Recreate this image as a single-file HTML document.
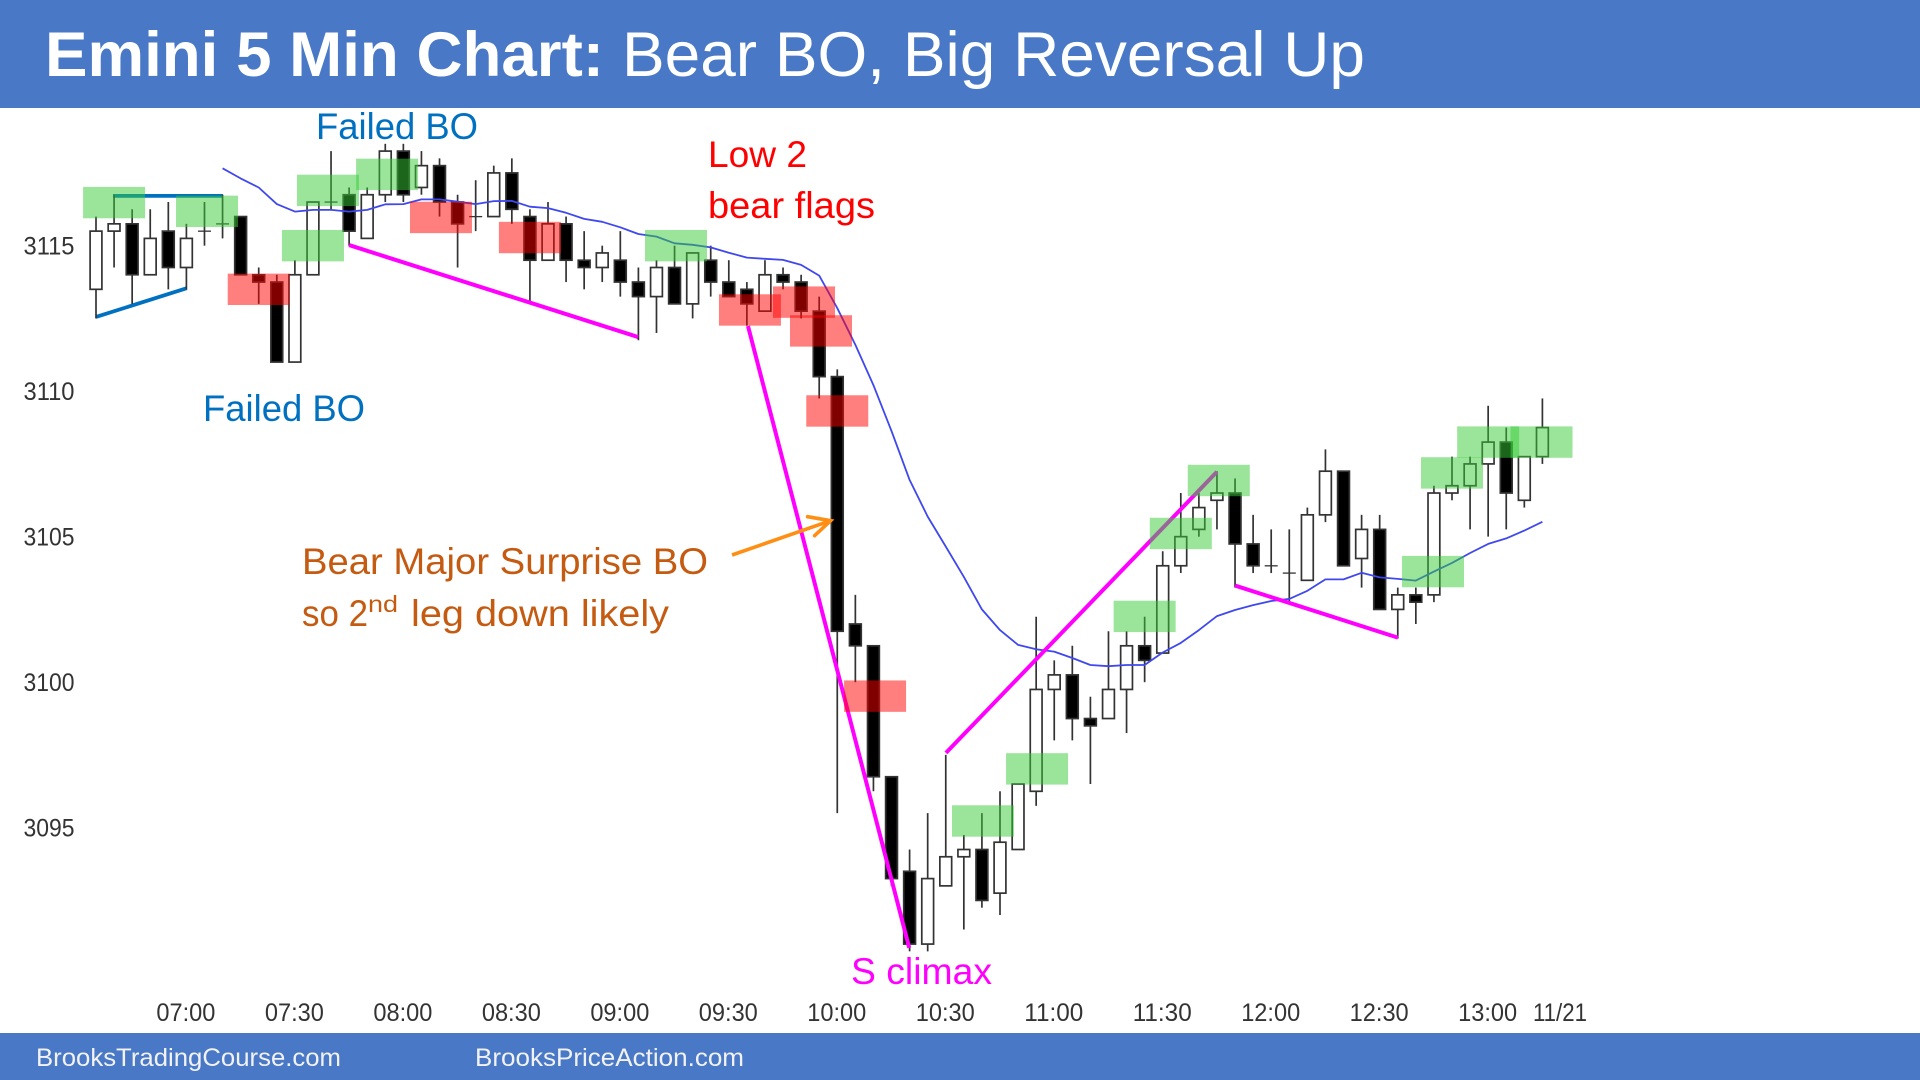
<!DOCTYPE html>
<html lang="en">
<head>
<meta charset="utf-8">
<title>Emini 5 Min Chart</title>
<style>
html,body{margin:0;padding:0;background:#fff;width:1920px;height:1080px;overflow:hidden}
svg{display:block;font-family:"Liberation Sans",Arial,sans-serif}
</style>
</head>
<body>
<svg id="chart" xmlns="http://www.w3.org/2000/svg" width="1920" height="1080" viewBox="0 0 1920 1080">
  <rect x="0" y="0" width="1920" height="1080" fill="#ffffff"/>
  <rect x="0" y="0" width="1920" height="108" fill="#4878c6"/>
  <text x="45" y="76" font-size="63" font-weight="700" fill="#ffffff" textLength="559" lengthAdjust="spacingAndGlyphs">Emini 5 Min Chart:</text>
  <text x="622" y="76" font-size="63" fill="#ffffff" textLength="743" lengthAdjust="spacingAndGlyphs">Bear BO, Big Reversal Up</text>
  <rect x="0" y="1033" width="1920" height="47" fill="#4878c6"/>
  <text x="36" y="1066" font-size="25" fill="#f2f2f2" textLength="305" lengthAdjust="spacingAndGlyphs">BrooksTradingCourse.com</text>
  <text x="475" y="1066" font-size="25" fill="#f2f2f2" textLength="269" lengthAdjust="spacingAndGlyphs">BrooksPriceAction.com</text>
  <g id="axis-layer"></g>
  <g id="line-under-layer"></g>
  <g id="candle-layer"></g>
  <g id="ema-layer"></g>
  <g id="line-over-layer"></g>
  <g id="box-layer"></g>
  <g id="arrow-layer"></g>
  <text x="316" y="139" font-size="37" fill="#0070c0" textLength="162" lengthAdjust="spacingAndGlyphs">Failed BO</text>
  <text x="203" y="421" font-size="37" fill="#0070c0" textLength="162" lengthAdjust="spacingAndGlyphs">Failed BO</text>
  <text x="708" y="167" font-size="37" fill="#ff0000" textLength="99" lengthAdjust="spacingAndGlyphs">Low 2</text>
  <text x="708" y="218" font-size="37" fill="#ff0000" textLength="167" lengthAdjust="spacingAndGlyphs">bear flags</text>
  <text x="302" y="574" font-size="37" fill="#c55a11" textLength="406" lengthAdjust="spacingAndGlyphs">Bear Major Surprise BO</text>
  <text y="626" font-size="37" fill="#c55a11"><tspan x="302" textLength="66" lengthAdjust="spacingAndGlyphs">so 2</tspan><tspan x="368" y="612" font-size="23" textLength="30" lengthAdjust="spacingAndGlyphs">nd</tspan><tspan x="411" y="626" textLength="258" lengthAdjust="spacingAndGlyphs">leg down likely</tspan></text>
  <text x="851" y="984" font-size="37" fill="#ff00ff" textLength="141" lengthAdjust="spacingAndGlyphs">S climax</text>
</svg>
<script>
// ---- chart data (prices; bar 0 = 06:35, one bar per 5 minutes) ----
var opens = [3113.5,3115.5,3115.75,3114,3115.5,3114.25,3115.5,3115.75,3116,3114,3113.75,3111,3114,3116.5,3116.75,3115.25,3116.75,3118.25,3117,3117.75,3116.5,3116,3116,3117.5,3116,3114.5,3115.75,3114.5,3114.25,3114.5,3113.75,3113.25,3114.25,3113,3114.5,3113.75,3113.5,3112.75,3114,3113.75,3112.75,3110.5,3102,3101.25,3096.75,3093.5,3091,3093,3094,3094.25,3092.75,3094.25,3096.25,3099.75,3100.25,3098.75,3098.75,3099.75,3101.25,3101,3104,3105.25,3106.25,3106.5,3104.75,3104,3103.75,3103.5,3105.75,3107.25,3104.25,3105.25,3102.5,3103,3103,3106.5,3106.75,3107.5,3108.25,3106.25,3107.75];
var highs = [3116,3116.75,3116.25,3116.25,3116.5,3115.75,3116.5,3116.75,3116,3114.25,3114,3114.5,3116.5,3118.25,3117,3117,3118.5,3118.5,3118.25,3118,3116.75,3117.25,3117.75,3118,3116.25,3116.5,3116,3115.5,3115,3115.5,3114.25,3114.5,3115,3114.75,3115,3114.5,3113.75,3114.5,3114.25,3114,3113.25,3110.75,3103,3101.25,3096.75,3094.25,3095.5,3097.5,3094.75,3095.5,3096.25,3096.5,3102.25,3100.75,3101.25,3099.5,3101.75,3101.75,3102.25,3104.5,3106.5,3106.5,3107.25,3107,3105.75,3105.25,3105.25,3106,3108,3107.25,3105.75,3105.75,3103.25,3103.25,3106.75,3107.75,3107.75,3109.5,3108.75,3107.75,3109.75];
var lows = [3112.5,3114.25,3113,3114,3113.5,3113.5,3115,3115.25,3114,3113,3111,3111,3114,3116.25,3115,3115.25,3116.5,3116.5,3116.75,3116,3114.25,3115.5,3116,3115.75,3113,3114.5,3113.75,3113.5,3113.75,3113.25,3111.75,3112,3113,3112.5,3113.25,3113.25,3112.25,3112.75,3113.5,3112.5,3109.75,3095.5,3100,3096.25,3093,3090.75,3090.75,3093,3091.5,3092.25,3092,3094.25,3095.75,3098,3098,3096.5,3098.75,3098.25,3100,3101,3103.75,3105,3105.25,3103.25,3103.75,3103.75,3102.75,3103.5,3105.5,3104,3103.25,3102.5,3101.5,3102,3102.75,3106.25,3105.25,3105,3105.25,3106,3107.5];
var closes = [3115.5,3115.75,3114,3115.25,3114.25,3115.25,3115.5,3115.75,3114,3113.75,3111,3114,3116.5,3116.5,3115.5,3116.75,3118.25,3116.75,3117.75,3116.5,3115.75,3116,3117.5,3116.25,3114.5,3115.75,3114.5,3114.25,3114.75,3113.75,3113.25,3114.25,3113,3114.75,3113.75,3113.25,3113,3114,3113.75,3112.75,3110.5,3101.75,3101.25,3096.75,3093.25,3091,3093.25,3094,3094.25,3092.5,3094.5,3096.5,3099.75,3100.25,3098.75,3098.5,3099.75,3101.25,3100.75,3104,3105,3106,3106.5,3104.75,3104,3104,3103.75,3105.75,3107.25,3104,3105.25,3102.5,3103,3102.75,3106.5,3106.75,3107.5,3108.25,3106.5,3107.75,3108.75];
var emaStartBar = 7;
var emaValues = [3117.66,3117.31,3117,3116.43,3116.17,3116.23,3116.23,3116.17,3116.23,3116.42,3116.43,3116.59,3116.59,3116.51,3116.43,3116.53,3116.54,3116.34,3116.29,3116.13,3115.92,3115.82,3115.63,3115.4,3115.31,3115.08,3115.03,3114.94,3114.76,3114.59,3114.55,3114.51,3114.34,3113.97,3112.85,3111.59,3110.21,3108.63,3106.95,3105.69,3104.66,3103.62,3102.5,3101.79,3101.28,3101.13,3101.05,3100.83,3100.59,3100.55,3100.59,3100.59,3101.02,3101.35,3101.79,3102.27,3102.48,3102.65,3102.79,3102.86,3103.14,3103.53,3103.53,3103.76,3103.6,3103.55,3103.49,3103.8,3104.1,3104.44,3104.75,3104.94,3105.21,3105.51];
var priceTicks = [3115,3110,3105,3100,3095];
var timeLabels = ["07:00","07:30","08:00","08:30","09:00","09:30","10:00","10:30","11:00","11:30","12:00","12:30","13:00"];
var dateLabel = "11/21";
var dateBar = 81;
var greenBoxBars = [1,6.14,12,12.83,16.1,32.08,49.06,52.05,58,60,62.1,73.95,75,77,79.95];
var greenBoxPrices = [3116.48,3116.18,3115,3116.9,3117.45,3115,3095.23,3097.02,3102.26,3105.11,3106.93,3103.8,3107.19,3108.25,3108.25];
var redBoxBars = [9,19.08,24,36.17,39.16,40.1,41,43.09];
var redBoxPrices = [3113.5,3115.97,3115.28,3112.79,3113.06,3112.07,3109.32,3099.52];
var magentaFromBars = [14,36.06,47.01,63];
var magentaFromPrices = [3115.02,3112.24,3097.57,3103.32];
var magentaToBars = [29.98,44.98,62,72.01];
var magentaToPrices = [3111.86,3090.87,3107.23,3101.53];
var blueFromBars = [0,0.94];
var blueFromPrices = [3112.55,3116.71];
var blueToBars = [5.02,7.02];
var blueToPrices = [3113.54,3116.71];
var arrowBars = [35.18,40.63];
var arrowPrices = [3104.37,3105.55];

// ---- axis functions ----
function xScale(bar){ return 96 + 18.08 * bar; }
function yScale(price){ return 245.67 + (3115 - price) * 29.1; }
function barOfTime(label){
  var parts = label.split(":");
  return (Number(parts[0]) * 60 + Number(parts[1]) - 395) / 5;
}
var NS = "http://www.w3.org/2000/svg";
function mk(tag, parent, attrs){
  var el = document.createElementNS(NS, tag);
  for (var k in attrs){ el.setAttribute(k, attrs[k]); }
  parent.appendChild(el);
  return el;
}
var axisLayer = document.getElementById("axis-layer");
var candleLayer = document.getElementById("candle-layer");
var emaLayer = document.getElementById("ema-layer");
var underLayer = document.getElementById("line-under-layer");
var overLayer = document.getElementById("line-over-layer");
var boxLayer = document.getElementById("box-layer");
var arrowLayer = document.getElementById("arrow-layer");

// ---- axes ----
priceTicks.forEach(function(p){
  var t = mk("text", axisLayer, {x:23.5, y:yScale(p)+8.6, "font-size":25, fill:"#333333", textLength:51, lengthAdjust:"spacingAndGlyphs"});
  
  
  t.textContent = String(p);
});
timeLabels.forEach(function(label){
  var t = mk("text", axisLayer, {x:xScale(barOfTime(label))-30, y:1021, "font-size":25, fill:"#333333", textLength:59, lengthAdjust:"spacingAndGlyphs"});
  
  
  t.textContent = label;
});
var dateText = mk("text", axisLayer, {x:xScale(dateBar)-27.5, y:1021, "font-size":25, fill:"#333333", textLength:54, lengthAdjust:"spacingAndGlyphs"});


dateText.textContent = dateLabel;

// ---- blue trend lines (under candles) ----
blueFromBars.forEach(function(b, i){
  var l = mk("line", underLayer, {x1:xScale(b), y1:yScale(blueFromPrices[i]), x2:xScale(blueToBars[i]), y2:yScale(blueToPrices[i]), stroke:"#0070c0", "stroke-width":3.8});
  
  
});

// ---- candlesticks ----
opens.forEach(function(o, i){
  var c = closes[i], hi = highs[i], lo = lows[i];
  var x = xScale(i);
  var g = mk("g", candleLayer, {});
  
  
  var wick = mk("line", g, {x1:x, y1:yScale(hi), x2:x, y2:yScale(lo), stroke:"#333333", "stroke-width":1.7});
  
  
  var top = yScale(Math.max(o, c)), bottom = yScale(Math.min(o, c));
  var bear = c < o;
  var body = mk("rect", g, {x:x-5.9, y:top, width:11.8, height:Math.max(bottom-top, 0.2), fill:bear ? "#000000" : "#ffffff", stroke:"#333333", "stroke-width":1.7});
  
  
  if (o === c) {
    body.setAttribute('fill', '#333333');
    body.setAttribute('height', '0.1');
    body.setAttribute('stroke-width', '1.2');
  }
});

// ---- moving average ----
var emaPoints = emaValues.map(function(v, i){
  return xScale(emaStartBar + i).toFixed(1) + "," + yScale(v).toFixed(1);
}).join(" ");
var ema = mk("polyline", emaLayer, {points:emaPoints, fill:"none", stroke:"#3f48ee", "stroke-width":1.8, "stroke-linejoin":"round"});



// ---- magenta trend lines ----
magentaFromBars.forEach(function(b, i){
  var l = mk("line", overLayer, {x1:xScale(b), y1:yScale(magentaFromPrices[i]), x2:xScale(magentaToBars[i]), y2:yScale(magentaToPrices[i]), stroke:"#ff00ff", "stroke-width":4});
  
  
});

// ---- signal boxes ----
greenBoxBars.forEach(function(b, i){
  var r = mk("rect", boxLayer, {x:xScale(b)-31, y:yScale(greenBoxPrices[i])-15.7, width:62, height:31.4, fill:"rgba(54,204,54,0.5)"});
  
  
});
redBoxBars.forEach(function(b, i){
  var r = mk("rect", boxLayer, {x:xScale(b)-31, y:yScale(redBoxPrices[i])-15.7, width:62, height:31.4, fill:"rgba(255,0,0,0.5)"});
  
  
});

// ---- orange arrow ----
var tipX = xScale(arrowBars[1]), tipY = yScale(arrowPrices[1]);
var shaft = mk("line", arrowLayer, {x1:xScale(arrowBars[0]), y1:yScale(arrowPrices[0]), x2:tipX, y2:tipY, stroke:"#ff8f14", "stroke-width":3.6});


var head = mk("polyline", arrowLayer, {points:(tipX-23)+","+(tipY-4)+" "+tipX+","+tipY+" "+(tipX-16)+","+(tipY+15), fill:"none", stroke:"#ff8f14", "stroke-width":3.6, "stroke-linecap":"round"});


</script>
</body>
</html>
